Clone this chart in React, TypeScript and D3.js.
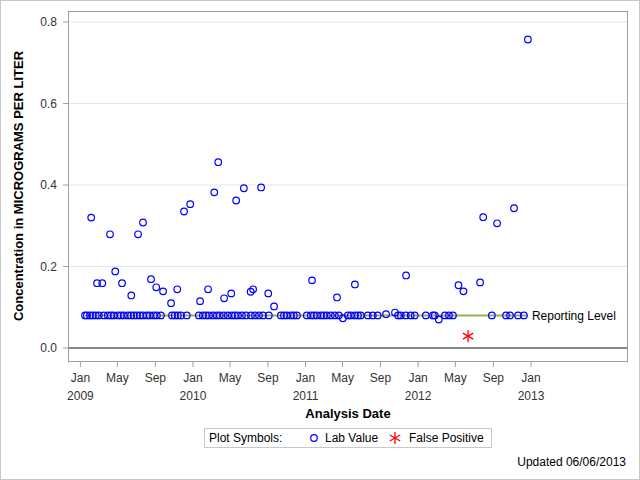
import React from "react";
import * as d3 from "d3";

const labDates: string[] = [
  "2009-01-16","2009-01-22","2009-02-01","2009-02-10","2009-02-20","2009-03-02","2009-03-18","2009-03-31","2009-04-10","2009-04-19",
  "2009-05-02","2009-05-12","2009-05-22","2009-06-04","2009-06-14","2009-06-23","2009-07-03","2009-07-13","2009-07-23","2009-08-04",
  "2009-08-14","2009-08-27","2009-09-06","2009-09-19","2009-10-25","2009-11-03","2009-11-13","2009-11-23","2009-12-12",
  "2010-01-20","2010-02-02","2010-02-12","2010-02-22","2010-03-07","2010-03-19","2010-03-29","2010-04-11","2010-04-24","2010-05-07",
  "2010-05-17","2010-05-27","2010-06-09","2010-06-22","2010-07-08","2010-07-21","2010-08-03","2010-08-16","2010-09-04","2010-10-13",
  "2010-10-23","2010-11-01","2010-11-14","2010-11-24","2010-12-04",
  "2011-01-05","2011-01-18","2011-01-28","2011-02-07","2011-02-20","2011-03-01","2011-03-11","2011-03-24","2011-04-06","2011-04-19",
  "2011-05-02","2011-05-18","2011-05-28","2011-06-10","2011-06-20","2011-06-29","2011-07-22","2011-08-07","2011-08-23","2011-09-19",
  "2011-10-18","2011-10-28","2011-11-06","2011-11-22","2011-12-08","2011-12-21",
  "2012-01-26","2012-02-18","2012-02-24","2012-03-08","2012-03-28","2012-04-10","2012-04-23","2012-08-27","2012-10-12","2012-10-25",
  "2012-11-20","2012-12-09",
  // detections above the reporting level
  "2009-02-05","2009-02-24","2009-03-13","2009-04-07","2009-04-24","2009-05-16","2009-06-15","2009-07-07","2009-07-23","2009-08-18",
  "2009-09-04","2009-09-26","2009-10-22","2009-11-11","2009-12-03","2009-12-23","2010-01-24","2010-02-19","2010-03-11","2010-03-24",
  "2010-04-12","2010-05-05","2010-05-21","2010-06-15","2010-07-07","2010-07-15","2010-08-10","2010-09-02","2010-09-21","2011-01-22",
  "2011-04-13","2011-06-10","2011-11-23","2012-05-11","2012-05-27","2012-07-20","2012-07-30","2012-09-13","2012-11-07","2012-12-22",
];

const labValues: number[] = [
  0.08,0.08,0.08,0.08,0.08,0.08,0.08,0.08,0.08,0.08,
  0.08,0.08,0.08,0.08,0.08,0.08,0.08,0.08,0.08,0.08,
  0.08,0.08,0.08,0.08,0.08,0.08,0.08,0.08,0.08,
  0.08,0.08,0.08,0.08,0.08,0.08,0.08,0.08,0.08,0.08,
  0.08,0.08,0.08,0.08,0.08,0.08,0.08,0.08,0.08,0.08,
  0.08,0.08,0.08,0.08,0.08,
  0.08,0.08,0.08,0.08,0.08,0.08,0.08,0.08,0.08,0.08,
  0.073,0.08,0.08,0.08,0.08,0.08,0.08,0.08,0.08,0.083,
  0.087,0.08,0.08,0.08,0.08,0.08,
  0.08,0.08,0.08,0.07,0.08,0.08,0.08,0.08,0.08,0.08,
  0.08,0.08,
  0.32,0.159,0.159,0.279,0.188,0.159,0.129,0.279,0.308,0.169,
  0.149,0.139,0.11,0.144,0.335,0.353,0.115,0.144,0.382,0.456,
  0.122,0.134,0.362,0.392,0.138,0.144,0.394,0.134,0.102,0.166,
  0.124,0.156,0.178,0.154,0.139,0.161,0.321,0.306,0.343,0.757,
];

const fpDates: string[] = ["2012-06-11"];
const fpValues: number[] = [0.029];

const reportingLevel = 0.08;
const yTicks: number[] = [0, 0.2, 0.4, 0.6, 0.8];
const xTickDates: string[] = [
  "2009-01-01","2009-05-01","2009-09-01","2010-01-01","2010-05-01","2010-09-01",
  "2011-01-01","2011-05-01","2011-09-01","2012-01-01","2012-05-01","2012-09-01","2013-01-01",
];

const W = 640, H = 480;
const left = 68, right = 628, top = 11, bottom = 361;
const FONT = "'Liberation Sans', Arial, sans-serif";

export default function App() {
  const parse = d3.utcParse("%Y-%m-%d");
  const x = d3
    .scaleUtc()
    .domain([parse("2009-01-01")!, parse("2013-01-01")!])
    .range([80.4, 531]);
  const y = d3.scaleLinear().domain([0, 0.8]).range([348, 22]);

  const lab = labDates.map((d, i) => ({ date: parse(d)!, v: labValues[i] }));
  const fp = fpDates.map((d, i) => ({ date: parse(d)!, v: fpValues[i] }));
  const allDates = lab.map((d) => d.date).concat(fp.map((d) => d.date));
  const [minD, maxD] = d3.extent(allDates) as [Date, Date];

  const monthFmt = d3.utcFormat("%b");
  const yearFmt = d3.utcFormat("%Y");

  const star = (cx: number, cy: number, r: number, key: string) => {
    const lines = [90, 30, -30].map((a) => {
      const rad = (a * Math.PI) / 180;
      const dx = Math.cos(rad) * r, dy = Math.sin(rad) * r;
      return <line key={a} x1={cx - dx} y1={cy - dy} x2={cx + dx} y2={cy + dy} />;
    });
    return (
      <g key={key} stroke="#ff0000" strokeWidth={1.3}>
        {lines}
      </g>
    );
  };

  return (
    <svg width={W} height={H} style={{ position: "absolute", left: 0, top: 0, background: "#fff" }} fontFamily={FONT}>
      <rect x={0.5} y={0.5} width={W - 1} height={H - 1} fill="#fff" stroke="#c8c8c8" />
      {/* grid */}
      {yTicks.filter((t) => t > 0).map((t) => (
        <line key={t} x1={left} x2={right} y1={y(t)} y2={y(t)} stroke="#e4e4e4" strokeWidth={1} />
      ))}
      {/* frame */}
      <rect x={left + 0.5} y={top + 0.5} width={right - left - 1} height={bottom - top} fill="none" stroke="#a0a0a0" />
      {/* zero line */}
      <line x1={left} x2={right} y1={y(0)} y2={y(0)} stroke="#8a8a8a" strokeWidth={2} />
      {/* y axis */}
      {yTicks.map((t) => (
        <g key={t}>
          <line x1={left - 5} x2={left} y1={y(t)} y2={y(t)} stroke="#a0a0a0" />
          <text x={57} y={y(t)} dy="0.35em" textAnchor="end" fontSize={12} fill="#333">
            {t.toFixed(1)}
          </text>
        </g>
      ))}
      <text
        transform={`translate(23,186) rotate(-90)`}
        textAnchor="middle"
        fontSize={13}
        fontWeight="bold"
        fill="#000"
      >
        Concentration in MICROGRAMS PER LITER
      </text>
      {/* x axis */}
      {xTickDates.map((s) => {
        const d = parse(s)!;
        const px = x(d);
        const isJan = d.getUTCMonth() === 0;
        return (
          <g key={s}>
            <line x1={px} x2={px} y1={bottom + 1} y2={bottom + 6} stroke="#a0a0a0" />
            <text x={px} y={382} textAnchor="middle" fontSize={12} fill="#333">
              {monthFmt(d)}
            </text>
            {isJan && (
              <text x={px} y={400} textAnchor="middle" fontSize={12} fill="#333">
                {yearFmt(d)}
              </text>
            )}
          </g>
        );
      })}
      <text x={(left + right) / 2} y={418} textAnchor="middle" fontSize={13} fontWeight="bold" fill="#000">
        Analysis Date
      </text>
      {/* reporting level */}
      <line x1={x(minD)} x2={x(maxD)} y1={y(reportingLevel)} y2={y(reportingLevel)} stroke="#92b256" strokeWidth={2} />
      <text x={x(maxD) + 4} y={y(reportingLevel)} dy="0.35em" fontSize={12} fill="#000">
        Reporting Level
      </text>
      {/* points */}
      {lab.map((d, i) => (
        <circle key={i} cx={x(d.date)} cy={y(d.v)} r={3.3} fill="none" stroke="#0000ff" strokeWidth={1.2} />
      ))}
      {fp.map((d, i) => star(x(d.date), y(d.v), 6, "fp" + i))}
      {/* legend */}
      <rect x={204.5} y={428.5} width={287} height={19} fill="#fff" stroke="#c8c8c8" />
      <text x={209} y={438} dy="0.35em" fontSize={12} fill="#000">Plot Symbols:</text>
      <circle cx={314} cy={438} r={3.3} fill="none" stroke="#0000ff" strokeWidth={1.2} />
      <text x={325} y={438} dy="0.35em" fontSize={12} fill="#000">Lab Value</text>
      {star(395, 438, 6, "leg")}
      <text x={409} y={438} dy="0.35em" fontSize={12} fill="#000">False Positive</text>
      <text x={626} y={466} textAnchor="end" fontSize={12} fill="#000">Updated 06/06/2013</text>
    </svg>
  );
}
